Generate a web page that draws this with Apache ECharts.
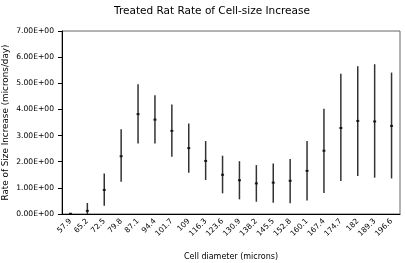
<!DOCTYPE html>
<html>
<head>
<meta charset="utf-8">
<script src="https://cdn.jsdelivr.net/npm/echarts@6/dist/echarts.min.js"></script>
<style>
  html, body { margin: 0; padding: 0; background: #fff; }
  #chart { width: 405px; height: 263px; }
</style>
</head>
<body>
<div id="chart"></div>
<script>
// cell diameter categories (microns)
const diameters = ["57.9", "65.2", "72.5", "79.8", "87.1", "94.4", "101.7", "109", "116.3", "123.6",
  "130.9", "138.2", "145.5", "152.8", "160.1", "167.4", "174.7", "182", "189.3", "196.6"];
// mean rate of size increase (microns/day)
const rates = [0.01, 0.12, 0.92, 2.21, 3.82, 3.61, 3.18, 2.52, 2.03, 1.50,
  1.29, 1.17, 1.20, 1.27, 1.65, 2.42, 3.29, 3.56, 3.54, 3.37];
// error bar ends
const lows = [0.0, -0.2, 0.32, 1.23, 2.70, 2.70, 2.19, 1.58, 1.30, 0.79,
  0.56, 0.47, 0.43, 0.41, 0.52, 0.80, 1.26, 1.45, 1.39, 1.36];
const highs = [0.02, 0.42, 1.55, 3.24, 4.96, 4.54, 4.19, 3.46, 2.79, 2.23,
  2.02, 1.87, 1.93, 2.10, 2.79, 4.03, 5.36, 5.65, 5.73, 5.41];
const yTicks = [0, 1, 2, 3, 4, 5, 6, 7];

const font = "DejaVu Sans, Verdana, sans-serif";
const chart = echarts.init(document.getElementById("chart"));

const barData = diameters.map((d, i) => [i, lows[i], highs[i]]);

chart.setOption({
  animation: false,
  title: {
    text: "Treated Rat Rate of Cell-size Increase",
    left: 207,
    textAlign: "center",
    top: 1,
    textStyle: { fontFamily: font, fontSize: 10.5, fontWeight: "normal", color: "#000" }
  },
  grid: {
    left: 62, right: 5, top: 31, bottom: 49,
    outerBoundsMode: "none",
    show: true, borderColor: "#666", borderWidth: 1, backgroundColor: "#fff"
  },
  xAxis: {
    type: "category",
    data: diameters,
    name: "Cell diameter (microns)",
    nameLocation: "middle",
    nameGap: 39,
    nameMoveOverlap: false,
    nameTextStyle: { fontFamily: font, fontSize: 8, color: "#000" },
    axisLine: { lineStyle: { color: "#000", width: 1 } },
    axisTick: { length: 4, lineStyle: { color: "#000" } },
    axisLabel: { rotate: 45, fontFamily: font, fontSize: 7.5, color: "#000", margin: 6 },
    splitLine: { show: false }
  },
  yAxis: {
    type: "value",
    min: yTicks[0],
    max: yTicks[yTicks.length - 1],
    interval: 1,
    name: "Rate of Size Increase (microns/day)",
    nameLocation: "middle",
    nameGap: 52,
    nameMoveOverlap: false,
    nameTextStyle: { fontFamily: font, fontSize: 8.8, color: "#000" },
    axisLine: { show: true, lineStyle: { color: "#000", width: 1 } },
    axisTick: { show: true, length: 4, lineStyle: { color: "#000" } },
    axisLabel: {
      fontFamily: font, fontSize: 7.6, color: "#000", margin: 8,
      formatter: v => v.toFixed(2) + "E+00"
    },
    splitLine: { show: false }
  },
  series: [
    {
      type: "custom",
      data: barData,
      clip: true,
      renderItem: (params, api) => {
        const lo = api.coord([api.value(0), Math.max(api.value(1), 0)]);
        const hi = api.coord([api.value(0), api.value(2)]);
        return {
          type: "line",
          shape: { x1: lo[0], y1: lo[1], x2: hi[0], y2: hi[1] },
          style: { stroke: "#333", lineWidth: 1.5 }
        };
      }
    },
    {
      type: "scatter",
      data: rates,
      symbol: "rect",
      symbolSize: [3, 2],
      itemStyle: { color: "#000" }
    }
  ]
});
</script>
</body>
</html>
